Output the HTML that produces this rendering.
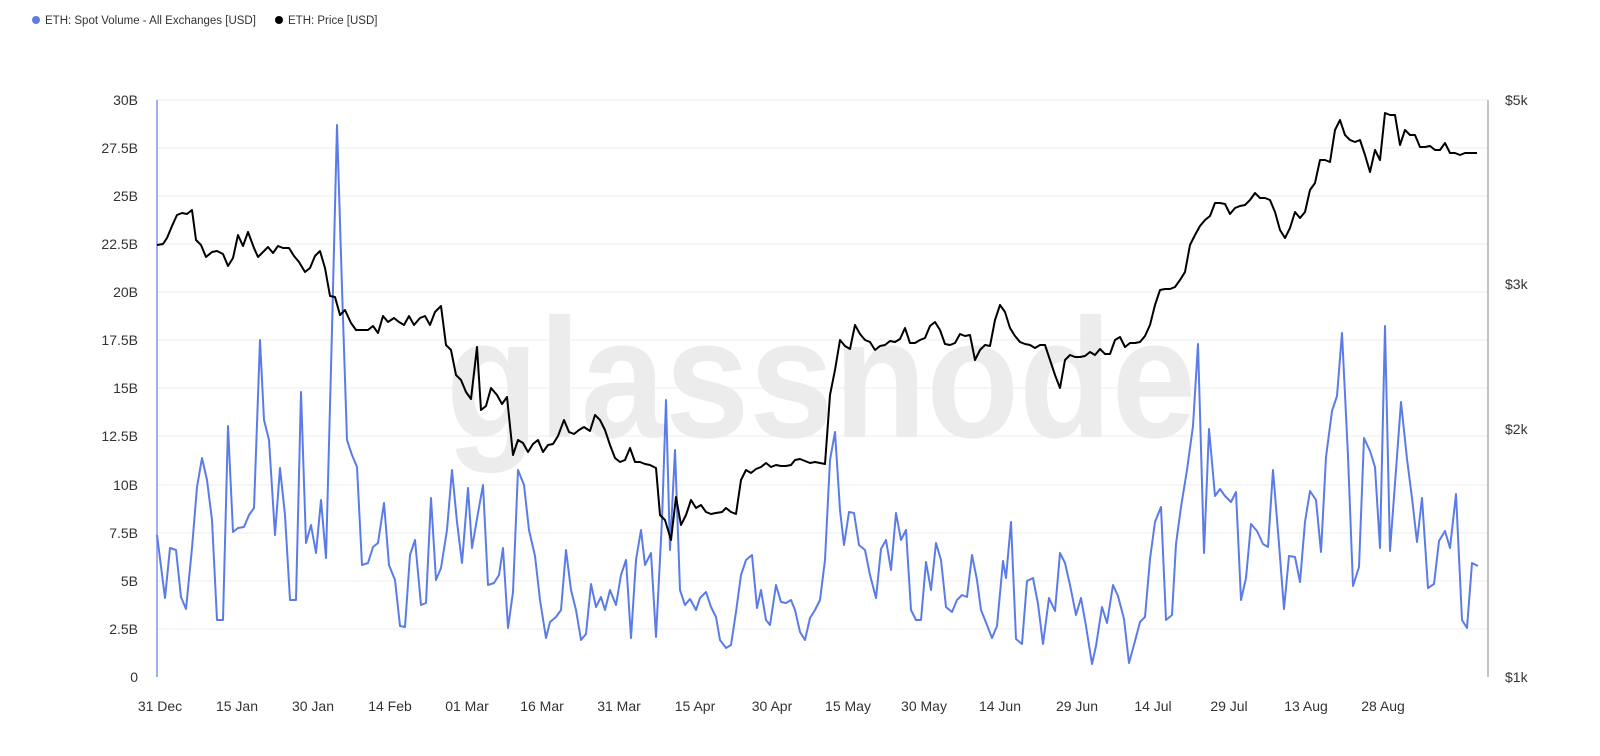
<!DOCTYPE html>
<html><head><meta charset="utf-8"><style>
html,body{margin:0;padding:0;background:#fff;}
svg{display:block;font-family:"Liberation Sans",sans-serif;}
</style></head><body>
<svg width="1600" height="756" viewBox="0 0 1600 756" xmlns="http://www.w3.org/2000/svg">
<rect width="1600" height="756" fill="#fff"/>
<circle cx="36" cy="20" r="4" fill="#5b7ce8"/>
<text x="45" y="24" font-size="11.5" fill="#333">ETH: Spot Volume - All Exchanges [USD]</text>
<circle cx="279" cy="20" r="4" fill="#000"/>
<text x="288" y="24" font-size="11.5" fill="#333">ETH: Price [USD]</text>
<g stroke="#eeeeee" stroke-width="1">
<line x1="157" x2="1488" y1="100" y2="100"/><line x1="157" x2="1488" y1="148" y2="148"/>
<line x1="157" x2="1488" y1="196" y2="196"/><line x1="157" x2="1488" y1="244" y2="244"/>
<line x1="157" x2="1488" y1="292" y2="292"/><line x1="157" x2="1488" y1="340" y2="340"/>
<line x1="157" x2="1488" y1="388" y2="388"/><line x1="157" x2="1488" y1="436" y2="436"/>
<line x1="157" x2="1488" y1="485" y2="485"/><line x1="157" x2="1488" y1="533" y2="533"/>
<line x1="157" x2="1488" y1="581" y2="581"/><line x1="157" x2="1488" y1="629" y2="629"/>
</g>
<text x="446" y="437" font-size="170" font-weight="bold" fill="#ececec" textLength="750" lengthAdjust="spacingAndGlyphs">glassnode</text>
<line x1="157" y1="100" x2="157" y2="677" stroke="#7b95ee" stroke-width="1.5"/>
<line x1="1488" y1="100" x2="1488" y2="677" stroke="#888" stroke-width="1"/>
<g font-size="14" fill="#333" text-anchor="end">
<text x="138" y="105">30B</text><text x="138" y="153">27.5B</text><text x="138" y="201">25B</text>
<text x="138" y="249">22.5B</text><text x="138" y="297">20B</text><text x="138" y="345">17.5B</text>
<text x="138" y="393">15B</text><text x="138" y="441">12.5B</text><text x="138" y="490">10B</text>
<text x="138" y="538">7.5B</text><text x="138" y="586">5B</text><text x="138" y="634">2.5B</text>
<text x="138" y="682">0</text>
</g>
<g font-size="14" fill="#333">
<text x="1505" y="105">$5k</text><text x="1505" y="289">$3k</text><text x="1505" y="434">$2k</text><text x="1505" y="682">$1k</text>
</g>
<g font-size="14" fill="#333" text-anchor="middle">
<text x="160" y="711">31 Dec</text><text x="237" y="711">15 Jan</text><text x="313" y="711">30 Jan</text>
<text x="390" y="711">14 Feb</text><text x="467" y="711">01 Mar</text><text x="542" y="711">16 Mar</text>
<text x="619" y="711">31 Mar</text><text x="695" y="711">15 Apr</text><text x="772" y="711">30 Apr</text>
<text x="848" y="711">15 May</text><text x="924" y="711">30 May</text><text x="1000" y="711">14 Jun</text>
<text x="1077" y="711">29 Jun</text><text x="1153" y="711">14 Jul</text><text x="1229" y="711">29 Jul</text>
<text x="1306" y="711">13 Aug</text><text x="1383" y="711">28 Aug</text>
</g>
<polyline fill="none" stroke="#5b7ce8" stroke-width="2" stroke-linejoin="round" points="157,535 165,598 170,548 176,550 181,597 186,609 192,548 197,487 202,458 207,480 212,520 217,620 223,620 228,426 233,532 238,528 244,527 249,515 254,508 260,340 264,420 269,440 275,535 280,468 285,515 290,600 296,600 301,392 306,543 311,525 316,553 321,500 326,558 332,330 337,125 342,288 347,440 352,455 357,467 362,565 368,563 373,547 378,543 384,503 389,565 395,580 400,626 405,627 410,555 415,540 421,605 426,603 431,498 436,580 441,568 447,530 452,470 457,522 462,563 468,488 472,548 478,513 483,485 488,585 494,583 499,575 503,548 508,628 513,592 518,470 524,485 529,530 535,556 540,600 546,638 550,622 556,617 561,610 566,550 571,590 576,610 581,640 586,634 591,584 596,607 601,597 605,610 610,590 616,605 621,575 626,560 631,638 636,560 641,530 645,565 651,553 656,637 662,520 666,400 670,550 675,450 680,590 685,605 690,599 696,610 700,598 706,592 711,607 716,617 720,640 726,648 731,645 736,612 741,575 746,560 752,555 757,608 761,590 766,620 770,625 776,585 781,602 786,603 791,600 795,610 800,632 805,640 810,618 815,610 820,600 825,560 830,460 835,432 840,510 844,545 849,512 854,513 859,545 865,550 870,575 876,598 881,549 886,540 891,570 896,513 901,540 906,530 911,610 916,620 921,620 926,562 931,590 936,543 941,560 946,607 952,612 957,600 962,595 967,597 972,555 977,580 981,610 987,625 992,638 997,626 1003,561 1006,578 1011,522 1016,639 1022,644 1027,581 1033,578 1038,604 1043,644 1049,598 1055,611 1060,553 1065,563 1070,585 1076,615 1081,598 1086,626 1092,664 1096,646 1102,607 1107,623 1113,585 1118,596 1124,619 1129,663 1135,641 1140,622 1145,617 1150,559 1155,522 1161,507 1166,620 1172,615 1176,544 1181,507 1187,470 1193,426 1198,344 1204,553 1209,429 1215,496 1220,489 1225,496 1231,502 1236,492 1241,600 1246,578 1251,524 1257,531 1263,544 1268,547 1273,470 1279,544 1284,609 1289,556 1295,557 1300,582 1305,522 1310,491 1316,500 1321,552 1326,457 1332,411 1337,396 1342,333 1348,456 1353,586 1359,567 1364,438 1370,451 1375,467 1380,548 1385,326 1390,551 1396,470 1401,402 1407,459 1412,498 1417,542 1422,498 1428,588 1434,584 1439,541 1445,531 1450,548 1456,494 1462,620 1467,628 1472,563 1478,566"/>
<polyline fill="none" stroke="#000" stroke-width="2" stroke-linejoin="round" points="157,245 163,244 167,238 172,226 177,215 182,213 187,214 192,210 196,240 201,245 206,257 212,252 217,251 223,254 228,266 233,258 238,235 243,246 248,232 254,248 258,257 263,252 268,247 273,253 278,246 283,248 289,248 294,256 299,262 305,272 310,268 315,256 320,251 325,268 330,296 335,297 340,315 345,310 351,323 356,330 362,330 368,330 373,326 378,333 383,316 388,322 394,318 399,322 404,325 409,316 414,325 420,318 425,316 430,325 435,312 441,306 446,345 451,350 456,375 461,380 466,392 471,399 477,347 481,410 486,406 491,388 497,395 502,404 507,397 513,455 518,440 523,443 528,452 533,444 538,440 543,452 548,445 553,444 558,436 564,420 569,432 574,434 579,430 584,427 590,431 595,415 600,420 605,430 610,445 615,458 620,462 625,460 630,448 635,462 640,462 645,464 650,465 656,468 660,515 665,520 671,540 676,497 681,525 686,515 691,500 696,508 701,505 706,512 711,514 716,513 722,512 726,508 731,512 736,514 741,480 746,470 751,473 756,469 761,467 766,463 771,467 776,465 781,466 786,466 791,465 795,460 800,459 805,461 810,463 815,462 820,463 825,464 830,395 835,370 840,340 845,346 850,349 855,325 860,334 865,340 870,342 875,350 880,346 885,345 890,341 895,342 900,339 905,328 910,343 915,343 920,340 925,338 930,326 935,322 940,330 945,344 950,345 955,343 960,334 965,336 970,335 975,360 980,350 985,345 990,346 995,320 1000,305 1005,312 1010,328 1015,336 1020,342 1025,344 1030,345 1035,348 1040,345 1045,345 1050,360 1055,375 1060,388 1065,360 1070,355 1075,357 1080,357 1085,356 1090,352 1095,355 1100,349 1105,354 1110,354 1115,340 1120,337 1125,347 1130,343 1135,343 1140,342 1145,336 1150,325 1155,305 1160,290 1165,289 1170,289 1175,287 1180,280 1185,272 1190,245 1195,235 1200,226 1205,220 1210,216 1215,203 1220,203 1225,204 1230,214 1235,208 1240,206 1245,205 1250,200 1255,193 1260,198 1265,198 1270,200 1275,212 1280,230 1285,238 1290,228 1295,212 1300,218 1305,212 1310,190 1315,183 1320,160 1325,160 1330,162 1335,130 1340,120 1345,135 1350,140 1355,142 1360,140 1365,155 1370,172 1375,150 1380,160 1385,113 1390,115 1395,115 1400,145 1405,130 1410,135 1415,135 1420,147 1425,147 1430,146 1435,150 1440,150 1445,143 1450,153 1455,153 1460,155 1465,153 1470,153 1477,153"/>
</svg>
</body></html>
